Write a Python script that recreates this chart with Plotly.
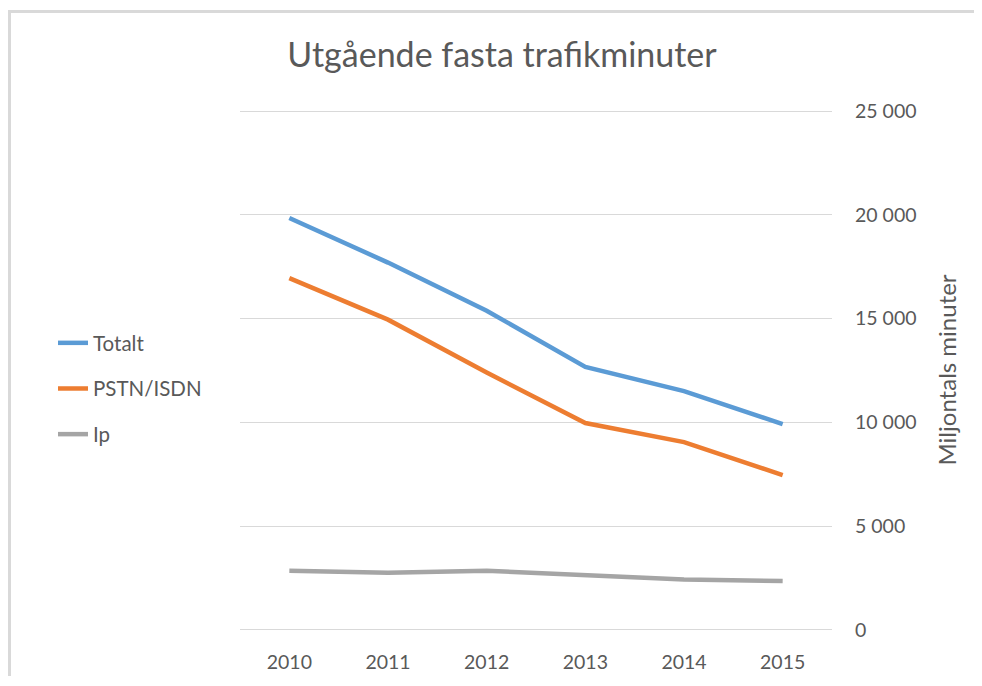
import plotly.graph_objects as go

years = ["2010", "2011", "2012", "2013", "2014", "2015"]
totalt = [19850, 17700, 15380, 12670, 11510, 9920]
pstn_isdn = [16950, 14950, 12400, 9970, 9050, 7460]
ip = [2850, 2750, 2850, 2650, 2430, 2360]
y_ticks = [0, 5000, 10000, 15000, 20000, 25000]

series = [
    ("Totalt", totalt, "#5B9BD5"),
    ("PSTN/ISDN", pstn_isdn, "#ED7D31"),
    ("Ip", ip, "#A5A5A5"),
]

fig = go.Figure()
for name, vals, col in series:
    fig.add_trace(go.Scatter(
        x=years, y=vals, name=name, mode="lines",
        line=dict(color=col, width=4.5),
        legendgroup=name,
    ))

# figure sits inside the 8px page margin, so work in figure pixels
W, H = 966, 668
plot_l, plot_r = 232, 824
plot_t, plot_b = 103, 622           # pixel rows of 25 000 and 0
ext = 100                           # small range padding so edge gridlines show
k = (plot_b - plot_t) / 25000.0
T = plot_t - ext * k
B = H - (plot_b + ext * k)
L, R = plot_l, W - plot_r
pw, ph = plot_r - plot_l, (plot_b - plot_t) + 2 * ext * k


def px(x):
    return (x - L) / pw


def py(y):
    return (H - B - y) / ph


frame = dict(color="#D9D9D9", width=3)

fig.update_layout(
    width=W, height=H,
    margin=dict(l=L, r=R, t=T, b=B, autoexpand=False),
    paper_bgcolor="white", plot_bgcolor="white",
    font=dict(family="Lato, Open Sans, sans-serif", color="#595959", size=19.5),
    separators=", ",
    title=dict(text="Utgående fasta trafikminuter", x=494 / W, xref="container",
               xanchor="center", y=1 - 47 / H, yref="container", yanchor="middle",
               font=dict(size=34, color="#595959")),
    showlegend=True,
    legend=dict(x=px(45), xanchor="left", y=py(315), yanchor="top",
                tracegroupgap=16, font=dict(size=20.5, color="#595959"),
                bgcolor="rgba(0,0,0,0)"),
    xaxis=dict(type="category", range=[-0.5, 5.5], showgrid=False, showline=False,
               zeroline=False, ticks="", tickfont=dict(size=19.5), ticklabelstandoff=16),
    yaxis=dict(side="right", range=[-ext, 25000 + ext], tickvals=y_ticks, tickformat=",d",
               showgrid=True, gridcolor="#D9D9D9", gridwidth=1, zeroline=False,
               showline=False, ticks="", tickfont=dict(size=19.5), ticklabelstandoff=22),
    annotations=[dict(text="Miljontals minuter", textangle=-90, xref="paper", yref="paper",
                      x=px(938), y=py((plot_t + plot_b) / 2), xanchor="center",
                      yanchor="middle", showarrow=False,
                      font=dict(size=24, color="#595959"))],
    shapes=[
        dict(type="line", xref="paper", yref="paper",
             x0=px(0), x1=px(W), y0=py(3.5), y1=py(3.5), line=frame, layer="below"),
        dict(type="line", xref="paper", yref="paper",
             x0=px(1.5), x1=px(1.5), y0=py(2), y1=py(H), line=frame, layer="below"),
    ],
)

fig.write_html("out.html")
